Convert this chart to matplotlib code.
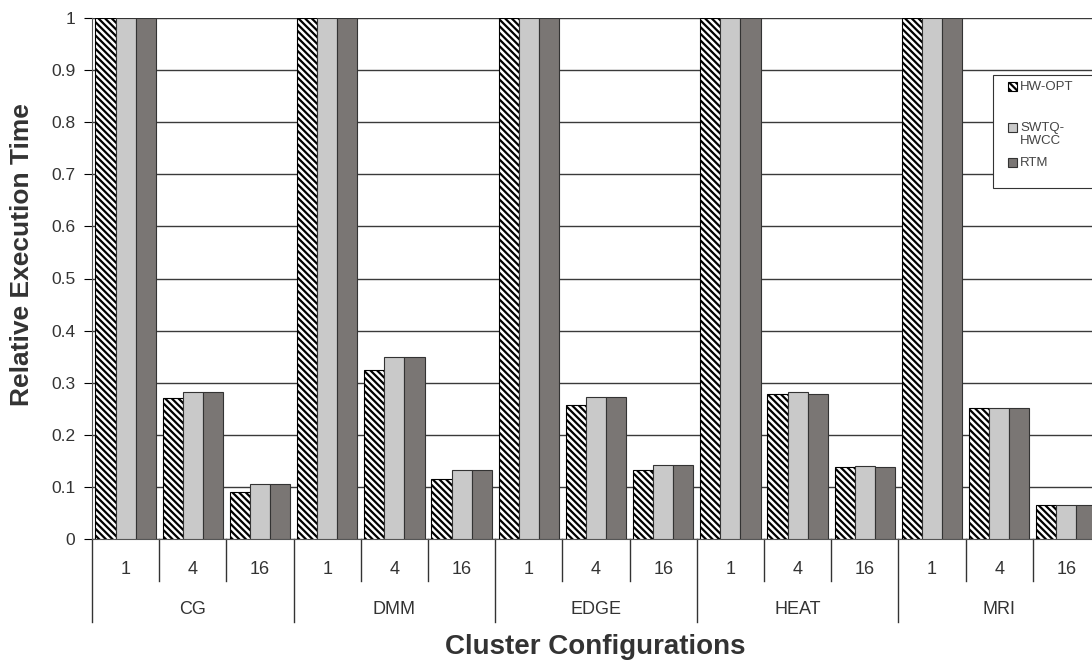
import numpy as np
import matplotlib
matplotlib.use("Agg")
import matplotlib.pyplot as plt
from matplotlib.patches import Rectangle

plt.rcParams['font.family'] = ['Liberation Sans', 'DejaVu Sans']
plt.rcParams['hatch.linewidth'] = 1.6

benchmarks = ["CG", "DMM", "EDGE", "HEAT", "MRI"]
clusters = ["1", "4", "16"]
series_names = ["HW-OPT", "SWTQ-\nHWCC", "RTM"]
hw_opt = [1, 0.27, 0.09, 1, 0.324, 0.115, 1, 0.257, 0.132, 1, 0.278, 0.138, 1, 0.252, 0.065]
swtq_hwcc = [1, 0.282, 0.106, 1, 0.35, 0.132, 1, 0.272, 0.142, 1, 0.282, 0.14, 1, 0.252, 0.065]
rtm = [1, 0.282, 0.106, 1, 0.35, 0.132, 1, 0.272, 0.142, 1, 0.278, 0.138, 1, 0.252, 0.065]

W, H = 1092, 663
fig = plt.figure(figsize=(W / 100, H / 100), dpi=100)
# plot area in pixels: x 92..1100, y 18..539
ax = fig.add_axes([92 / W, (H - 539) / H, 1008 / W, 521 / H])

hatch = "\\\\\\\\\\"
styles = [
    dict(facecolor="white", edgecolor="black", hatch=hatch),
    dict(facecolor="#c9c9c9", edgecolor="#333333"),
    dict(facecolor="#7a7674", edgecolor="#333333"),
]

n = len(hw_opt)
x = np.arange(n) + 0.5
bw = 0.3
for k, vals in enumerate([hw_opt, swtq_hwcc, rtm]):
    ax.bar(x + (k - 1) * bw, vals, bw, linewidth=0.8, zorder=3, **styles[k])

ax.set_xlim(0, n)
ax.set_ylim(0, 1)
ax.set_yticks(np.arange(0, 1.01, 0.1))
ax.set_yticklabels(["0", "0.1", "0.2", "0.3", "0.4", "0.5", "0.6", "0.7", "0.8", "0.9", "1"])
ax.tick_params(axis="y", labelsize=12.5, labelcolor="#333333", length=6, width=0.8,
               direction="out", pad=6)
ax.set_xticks([])
ax.yaxis.grid(True, color="#3a3a3a", linewidth=1.0, zorder=0)
for s in ["top", "right"]:
    ax.spines[s].set_visible(False)
ax.spines["left"].set_color("#555555")
ax.spines["bottom"].set_color("#555555")

# two-level category axis
trans = ax.get_xaxis_transform()
inner_drop = 42 / 521
outer_drop = 83 / 521
for i in range(n + 1):
    drop = outer_drop if i % 3 == 0 else inner_drop
    ax.plot([i, i], [0, -drop], transform=trans, color="#333333", lw=1.0, clip_on=False)
for i in range(n):
    ax.text(i + 0.5, -31 / 521, clusters[i % 3], transform=trans, ha="center", va="center",
            fontsize=13, color="#333333")
for g, name in enumerate(benchmarks):
    ax.text(g * 3 + 1.5, -71 / 521, name, transform=trans, ha="center", va="center",
            fontsize=13, color="#333333")

fig.text(595 / W, 1 - 647 / H, "Cluster Configurations", ha="center", va="center",
         fontsize=20, fontweight="bold", color="#333333")
fig.text(22 / W, 1 - 255 / H, "Relative Execution Time", ha="center", va="center",
         rotation=90, fontsize=19, fontweight="bold", color="#333333")

# legend box (drawn by hand, it runs past the right edge like the original)
fig.patches.append(Rectangle((993 / W, 1 - 188 / H), 110 / W, 113 / H, transform=fig.transFigure,
                             facecolor="white", edgecolor="#333333", linewidth=0.8, zorder=5))
legend_y = [86, 127, 162]
for k, label in enumerate(series_names):
    yc = legend_y[k]
    fig.patches.append(Rectangle((1008 / W, 1 - (yc + 4.5) / H), 9 / W, 9 / H,
                                 transform=fig.transFigure, linewidth=0.8, zorder=6, **styles[k]))
    fig.text(1020 / W, 1 - (yc - 5) / H, label, ha="left", va="top", fontsize=9.5,
             color="#444444", linespacing=1.15, zorder=7)

fig.savefig("out.png", dpi=100)
